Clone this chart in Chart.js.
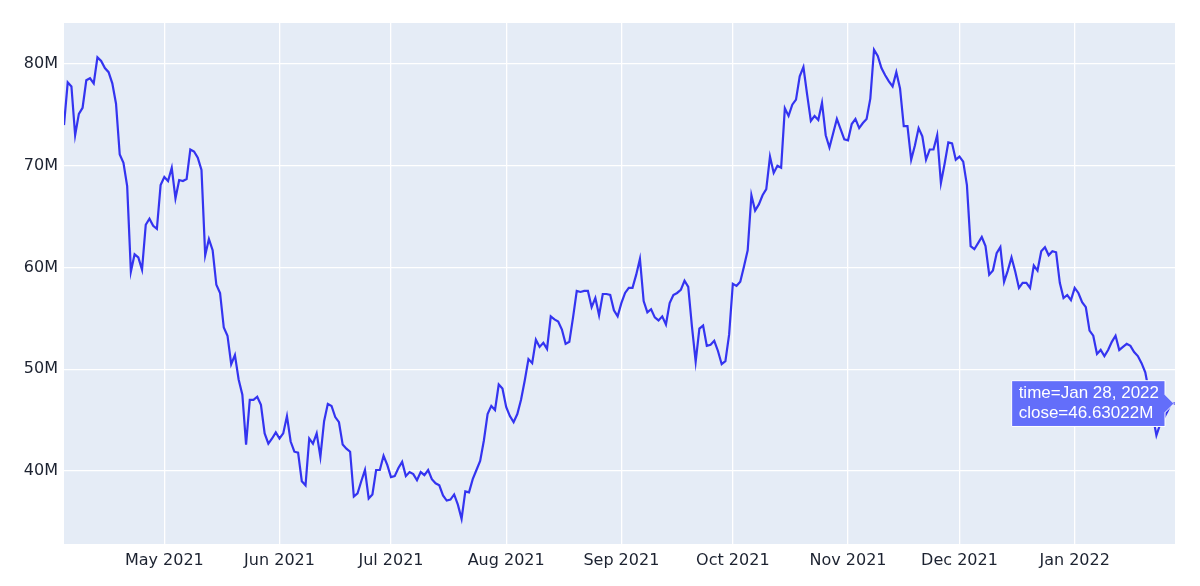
<!DOCTYPE html>
<html>
<head>
<meta charset="utf-8">
<script src="https://cdn.jsdelivr.net/npm/chart.js@4.4.1/dist/chart.umd.min.js"></script>
<style>
  html, body { margin: 0; padding: 0; background: #ffffff; }
  #wrap { width: 1200px; height: 586px; }
</style>
</head>
<body>
<div id="wrap"><canvas id="myChart" width="1200" height="586"></canvas></div>
<script>
// one close per calendar day, starting Apr 4 2021
var startDate = [2021, 3, 4];
var closeValues = [
  74.0, 78.2, 77.8, 73.0, 75.1, 75.7, 78.4, 78.6, 78.1, 80.65,
  80.3, 79.6, 79.2, 78.1, 76.1, 71.1, 70.3, 68.0, 59.6, 61.3,
  61.0, 59.8, 64.2, 64.8, 64.1, 63.8, 68.1, 68.9, 68.5, 69.8,
  66.8, 68.6, 68.5, 68.7, 71.6, 71.4, 70.8, 69.6, 61.2, 62.8,
  61.7, 58.3, 57.5, 54.1, 53.3, 50.5, 51.4, 49.0, 47.5, 42.6,
  47.0, 47.0, 47.3, 46.5, 43.7, 42.7, 43.2, 43.8, 43.2, 43.7,
  45.4, 42.9, 41.9, 41.8, 39.0, 38.6, 43.2, 42.7, 43.7, 41.4,
  44.9, 46.6, 46.4, 45.3, 44.8, 42.6, 42.2, 41.9, 37.5, 37.8,
  39.0, 40.1, 37.3, 37.7, 40.1, 40.1, 41.5, 40.6, 39.4, 39.5,
  40.3, 40.9, 39.5, 39.9, 39.7, 39.1, 39.9, 39.6, 40.1, 39.2,
  38.8, 38.6, 37.6, 37.1, 37.2, 37.7, 36.7, 35.3, 38.0, 37.9,
  39.2, 40.1, 41.0, 43.0, 45.6, 46.4, 46.0, 48.5, 48.1, 46.3,
  45.4, 44.8, 45.6, 47.0, 48.9, 51.0, 50.6, 52.9, 52.2, 52.6,
  52.0, 55.2, 54.9, 54.7, 53.9, 52.5, 52.7, 55.1, 57.7, 57.6,
  57.7, 57.7, 56.1, 57.0, 55.3, 57.4, 57.4, 57.3, 55.8, 55.2,
  56.5, 57.5, 58.0, 58.0, 59.3, 60.85, 56.7, 55.6, 55.9, 55.1,
  54.8, 55.2, 54.4, 56.5, 57.3, 57.5, 57.8, 58.7, 58.1, 54.2,
  50.75, 54.0, 54.3, 52.3, 52.4, 52.8, 51.8, 50.5, 50.8, 53.4,
  58.4, 58.2, 58.6, 60.1, 61.7, 67.1, 65.6, 66.2, 67.1, 67.7,
  70.9, 69.3, 70.0, 69.8, 75.65, 74.9, 76.0, 76.5, 78.8, 79.7,
  77.0, 74.4, 74.9, 74.5, 76.2, 73.0, 71.8, 73.2, 74.6, 73.6,
  72.6, 72.5, 74.1, 74.6, 73.7, 74.2, 74.6, 76.6, 81.4, 80.8,
  79.6, 78.9, 78.3, 77.8, 79.2, 77.6, 73.9, 73.9, 70.6, 72.0,
  73.7, 72.9, 70.6, 71.6, 71.6, 73.0, 68.3, 70.2, 72.3, 72.2,
  70.6, 70.9, 70.4, 68.1, 62.1, 61.8, 62.4, 63.0, 62.1, 59.3,
  59.7, 61.4, 62.0, 58.6, 59.7, 61.0, 59.6, 58.0, 58.5, 58.5,
  58.0, 60.2, 59.7, 61.6, 62.0, 61.2, 61.6, 61.5, 58.5, 57.0,
  57.3, 56.8, 58.0, 57.5, 56.6, 56.1, 53.8, 53.3, 51.5, 51.9,
  51.3, 51.9, 52.7, 53.3, 51.9, 52.2, 52.5, 52.3, 51.7, 51.3,
  50.6, 49.7, 47.8, 45.5, 43.5, 44.6, 45.2, 45.9, 46.7, 46.63022
];
var tickDates = ['2021-05-01', '2021-06-01', '2021-07-01', '2021-08-01', '2021-09-01',
                 '2021-10-01', '2021-11-01', '2021-12-01', '2022-01-01'];
var tickLabels = ['May 2021', 'Jun 2021', 'Jul 2021', 'Aug 2021', 'Sep 2021',
                  'Oct 2021', 'Nov 2021', 'Dec 2021', 'Jan 2022'];
var yTicks = [40, 50, 60, 70, 80];
var yMin = 32.83, yMax = 84.03;

var monthNames = ['Jan','Feb','Mar','Apr','May','Jun','Jul','Aug','Sep','Oct','Nov','Dec'];

var points = closeValues.map(function(v, i) {
  return {x: Date.UTC(startDate[0], startDate[1], startDate[2] + i), y: v};
});
var tickTimes = tickDates.map(function(d) {
  var p = d.split('-');
  return Date.UTC(+p[0], +p[1] - 1, +p[2]);
});

function fmtDate(t) {
  var d = new Date(t);
  return monthNames[d.getUTCMonth()] + ' ' + d.getUTCDate() + ', ' + d.getUTCFullYear();
}

var plotBg = {
  id: 'plotBg',
  beforeDraw: function(chart) {
    var a = chart.chartArea, c = chart.ctx;
    c.save();
    c.fillStyle = '#e5ecf6';
    c.fillRect(a.left, a.top, a.right - a.left, a.bottom - a.top);
    c.restore();
  }
};

var tickFont = {family: '"DejaVu Sans", Verdana, sans-serif', size: 16};

var contx = document.getElementById('myChart').getContext('2d');
var myChart = new Chart(contx, {
  type: 'line',
  data: {
    datasets: [{
      label: 'close',
      data: points,
      borderColor: '#3434f0',
      borderWidth: 2.2,
      pointRadius: 0,
      pointHoverRadius: 0,
      tension: 0,
      fill: false
    }]
  },
  plugins: [plotBg],
  options: {
    responsive: false,
    animation: false,
    events: [],
    layout: {padding: {left: 0, right: 25, top: 23, bottom: 0}},
    plugins: {
      legend: {display: false},
      tooltip: {
        enabled: true,
        xAlign: 'right',
        yAlign: 'center',
        backgroundColor: '#636efa',
        borderColor: '#ffffff',
        borderWidth: 1,
        cornerRadius: 0,
        caretSize: 9,
        caretPadding: 1,
        displayColors: false,
        bodyColor: '#ffffff',
        bodyFont: {family: '"Liberation Sans", Arial, sans-serif', size: 17},
        bodySpacing: 0,
        padding: {left: 7, right: 6, top: 2, bottom: 3},
        callbacks: {
          title: function() { return []; },
          label: function(ctx) {
            return ['time=' + fmtDate(ctx.parsed.x), 'close=' + ctx.parsed.y + 'M'];
          }
        }
      }
    },
    scales: {
      x: {
        type: 'linear',
        min: points[0].x,
        max: points[points.length - 1].x,
        afterBuildTicks: function(scale) {
          scale.ticks = tickTimes.map(function(t) { return {value: t}; });
        },
        afterFit: function(scale) { scale.height = 42; },
        grid: {color: '#ffffff', lineWidth: 1.3, drawTicks: false},
        border: {display: false},
        ticks: {
          autoSkip: false,
          maxRotation: 0,
          padding: 7,
          color: '#1c2230',
          font: tickFont,
          callback: function(v) {
            var k = tickTimes.indexOf(v);
            return k >= 0 ? tickLabels[k] : '';
          }
        }
      },
      y: {
        min: yMin,
        max: yMax,
        afterBuildTicks: function(scale) {
          scale.ticks = yTicks.map(function(v) { return {value: v}; });
        },
        afterFit: function(scale) { scale.width = 64; },
        grid: {color: '#ffffff', lineWidth: 1.3, drawTicks: false},
        border: {display: false},
        ticks: {
          padding: 6,
          color: '#1c2230',
          font: tickFont,
          callback: function(v) { return v + 'M'; }
        }
      }
    }
  }
});

var last = closeValues.length - 1;
var pt = myChart.getDatasetMeta(0).data[last];
myChart.tooltip.setActiveElements([{datasetIndex: 0, index: last}], {x: pt.x, y: pt.y});
myChart.update();
</script>
</body>
</html>
